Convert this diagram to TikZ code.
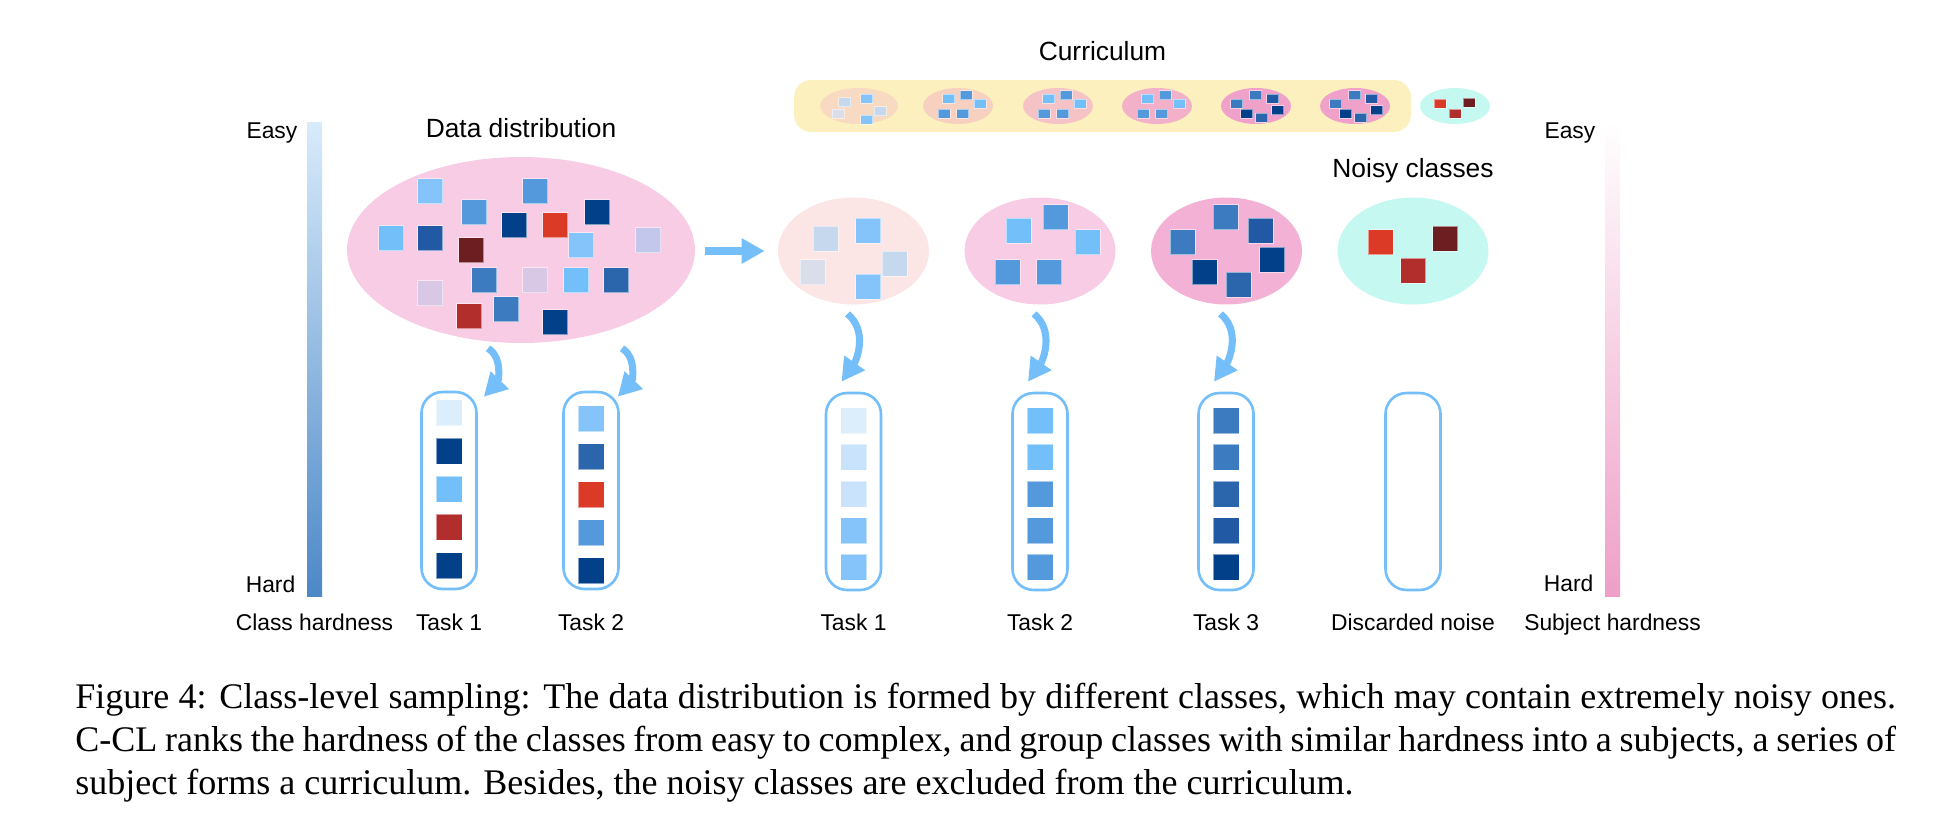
\documentclass[tikz,border=0pt]{standalone}
\usepackage{fontspec}
\setmainfont{Liberation Sans}
\newfontfamily\capfont{Liberation Serif}
\usetikzlibrary{arrows.meta,calc,positioning,shapes.geometric}

\definecolor{skyA}{HTML}{74BEF9}
\definecolor{sqVlight}{HTML}{DCEEFC}
\definecolor{sqPale}{HTML}{C8E3FB}
\definecolor{sqGray}{HTML}{C5D8EE}
\definecolor{sqGrayL}{HTML}{DADDEA}
\definecolor{sqLav}{HTML}{D8C8E6}
\definecolor{sqLavB}{HTML}{C4C7EC}
\definecolor{sqLblue}{HTML}{85C4FA}
\definecolor{sqSky}{HTML}{73BFFA}
\definecolor{sqMed}{HTML}{5599DD}
\definecolor{sqMid}{HTML}{3C7BC0}
\definecolor{sqBlue}{HTML}{2B65AB}
\definecolor{sqDblue}{HTML}{2259A5}
\definecolor{sqNavy}{HTML}{03408A}
\definecolor{sqRed}{HTML}{DB3A26}
\definecolor{sqDred}{HTML}{B22E2C}
\definecolor{sqMaroon}{HTML}{6D1E20}
\definecolor{blobData}{HTML}{F7CCE4}
\definecolor{blobEasy}{HTML}{FBE5E5}
\definecolor{blobPeach}{HTML}{F8DAC2}
\definecolor{blobHard}{HTML}{F3B2D5}
\definecolor{blobNoise}{HTML}{C5F8F0}
\definecolor{currBar}{HTML}{FDF0BF}
\definecolor{barTopL}{HTML}{D8EBFB}
\definecolor{barBotL}{HTML}{4C88C7}
\definecolor{barBotR}{HTML}{EE9FC7}

\tikzset{
blob/.style={
  ellipse,
  inner sep=0pt,
  draw=none,
  }
}
\tikzset{
sq/.style={
  rectangle,
  inner sep=0pt,
  minimum size=0.5cm,
  draw=white, draw opacity=0.5, line width=0.3pt,
  }
}
\tikzset{
tinysq/.style={
  rectangle,
  inner sep=0pt,
  minimum width=0.24cm, minimum height=0.18cm,
  draw=white, draw opacity=0.5, line width=0.2pt,
  }
}
\tikzset{
taskbox/.style={
  rectangle,
  draw=skyA,
  line width=1.5pt,
  rounded corners=0.42cm,
  minimum width=1.1cm, minimum height=3.94cm,
  inner sep=0pt,
  }
}
\tikzset{
flowarrow/.style={
  draw=skyA,
  line width=4pt,
  -{Triangle[width=0.48cm,length=0.46cm]}
  }
}
\tikzset{
title/.style={font=\fontsize{15}{18}\selectfont, inner sep=0pt, text depth=0pt},
lbl/.style={font=\fontsize{13}{16}\selectfont, inner sep=0pt},
capline/.style={font=\capfont\fontsize{20.5}{24}\selectfont, inner sep=0pt},
hbar/.style={rectangle, inner sep=0pt, minimum width=0.3cm, minimum height=9.5cm, draw=none},
}

\begin{document}
\begin{tikzpicture}[x=0.02cm, y=-0.02cm]
    \useasboundingbox (0,0) rectangle (1960,832);

    % hardness bars
    \node[hbar, top color=barTopL, bottom color=barBotL] (lbar) at (314.5,359.5) {};
    \node[hbar, top color=white, bottom color=barBotR] (rbar) at (1612.5,359) {};
    \node[lbl, anchor=base east] (leasy) at ($(lbar.north west)+(-9,17)$) {Easy};
    \node[lbl, anchor=base east] (lhard) at ($(lbar.south west)+(-11,-5)$) {Hard};
    \node[lbl, anchor=base east] (reasy) at ($(rbar.north west)+(-9,17)$) {Easy};
    \node[lbl, anchor=base east] (rhard) at ($(rbar.south west)+(-11,-5)$) {Hard};

    % data distribution
    \node[blob, fill=blobData, minimum width=6.96cm, minimum height=3.72cm] (data) at (521,250) {};
    \node[title, above=0.38cm of data] (datalbl) {Data distribution};
    \foreach \x/\y/\c [count=\i] in {430/191/sqLblue, 535/191/sqMed, 474/212/sqMed, 514/225/sqNavy,
        555/225/sqRed, 597/212/sqNavy, 391/238/sqSky, 430/238/sqDblue, 471/250/sqMaroon,
        581/245/sqLblue, 648/240/sqLavB, 484/280/sqMid, 535/280/sqLav, 576/280/sqSky,
        616/280/sqBlue, 430/293/sqLav, 469/316/sqDred, 506/309/sqMid, 555/322/sqNavy}
      \node[sq, fill=\c] (ds\i) at (\x,\y) {};

    % subjects
    \node[blob, fill=blobEasy, minimum width=3.02cm, minimum height=2.14cm] (sub1) at (853.5,251) {};
    \node[blob, fill=blobData, minimum width=3.02cm, minimum height=2.14cm] (sub2) at (1040,251) {};
    \node[blob, fill=blobHard, minimum width=3.02cm, minimum height=2.14cm] (sub3) at (1226.5,251) {};
    \node[blob, fill=blobNoise, minimum width=3.02cm, minimum height=2.14cm] (noise) at (1413,251) {};
    \node[title, above=0.38cm of noise] (noiselbl) {Noisy classes};
    \foreach \x/\y/\c [count=\i] in {825.5/238.5/sqGray, 868/230.5/sqLblue, 812.5/272/sqGrayL,
        894.5/263.5/sqGray, 868/286.5/sqLblue}
      \node[sq, fill=\c] (s1q\i) at (\x,\y) {};
    \foreach \x/\y/\c [count=\i] in {1018.5/230.5/sqSky, 1055.5/217/sqMed, 1087.5/242/sqSky,
        1007.5/272/sqMed, 1049/272/sqMed}
      \node[sq, fill=\c] (s2q\i) at (\x,\y) {};
    \foreach \x/\y/\c [count=\i] in {1182.5/242/sqMid, 1225.5/217/sqMid, 1260.5/230.5/sqDblue,
        1272/259.5/sqNavy, 1204.5/272/sqNavy, 1238.5/284.5/sqBlue}
      \node[sq, fill=\c] (s3q\i) at (\x,\y) {};
    \foreach \x/\y/\c [count=\i] in {1380.5/242/sqRed, 1445/238.5/sqMaroon, 1413/270.5/sqDred}
      \node[sq, fill=\c] (nq\i) at (\x,\y) {};

    % curriculum part
    \node[rectangle, fill=currBar, rounded corners=0.34cm, minimum width=12.34cm, minimum height=1.04cm] (curr) at (1102.5,106) {};
    \node[title, above=0.38cm of curr] (currlbl) {Curriculum};
    \node[blob, fill=blobPeach, minimum width=1.56cm, minimum height=0.72cm] (c1) at (859,106) {};
    \foreach \x/\c [count=\i from 2] in {958/F7D0C0, 1058/F5C3C5, 1157/F2B1C8, 1256/EFA1C9, 1355/EFA1C9} {
      \definecolor{cc}{HTML}{\c}
      \node[blob, fill=cc, minimum width=1.4cm, minimum height=0.72cm] (c\i) at (\x,106) {};
    }
    \node[blob, fill=blobNoise, minimum width=1.4cm, minimum height=0.72cm] (cn) at (1455,106) {};
    \foreach \dx/\dy/\c [count=\i] in {-14.5/-4/sqGray, 7.5/-7.5/sqLblue, -21/7.5/sqGrayL, 21/5/sqGray, 7.5/13.5/sqLblue}
      \node[tinysq, fill=\c] (c1q\i) at ($(c1)+(\dx,\dy)$) {};
    \foreach \e in {c2,c3,c4} {
      \foreach \dx/\dy/\c [count=\i] in {-9.5/-7.5/sqSky, 8/-11/sqMed, 22/-2.5/sqSky, -14/7.5/sqMed, 4.5/7.5/sqMed}
        \node[tinysq, fill=\c] (\e q\i) at ($(\e)+(\dx,\dy)$) {};
    }
    \foreach \e in {c5,c6} {
      \foreach \dx/\dy/\c [count=\i] in {-0.5/-11/sqMid, -19.5/-2.5/sqMid, 16.5/-7.5/sqDblue, -9.5/7.5/sqNavy, 21.5/4/sqNavy, 5.5/11.5/sqBlue}
        \node[tinysq, fill=\c] (\e q\i) at ($(\e)+(\dx,\dy)$) {};
    }
    \foreach \dx/\dy/\c [count=\i] in {-15/-2.5/sqRed, 14/-3.5/sqMaroon, 0/7.5/sqDred}
      \node[tinysq, fill=\c] (cnq\i) at ($(cn)+(\dx,\dy)$) {};

    % tasks
    \node[taskbox] (t1) at (449,490.5) {};
    \node[taskbox] (t2) at (591,490.5) {};
    \node[taskbox] (r1) at (853.5,491.5) {};
    \node[taskbox] (r2) at (1040,491.5) {};
    \node[taskbox] (r3) at (1226,491.5) {};
    \node[taskbox] (rn) at (1413,491.5) {};
    \foreach \c [count=\i from 0] in {sqVlight,sqNavy,sqSky,sqDred,sqNavy}
      \node[sq, minimum size=0.52cm, fill=\c] (t1q\i) at ($(t1.north)+(0,{22+38.25*\i})$) {};
    \foreach \c [count=\i from 0] in {sqLblue,sqBlue,sqRed,sqMed,sqNavy}
      \node[sq, minimum size=0.52cm, fill=\c] (t2q\i) at ($(t2.north)+(0,{28+38*\i})$) {};
    \foreach \c [count=\i from 0] in {sqVlight,sqPale,sqPale,sqLblue,sqLblue}
      \node[sq, minimum size=0.52cm, fill=\c] (r1q\i) at ($(r1.north)+(0,{29+36.6*\i})$) {};
    \foreach \c [count=\i from 0] in {sqSky,sqSky,sqMed,sqMed,sqMed}
      \node[sq, minimum size=0.52cm, fill=\c] (r2q\i) at ($(r2.north)+(0,{29+36.6*\i})$) {};
    \foreach \c [count=\i from 0] in {sqMid,sqMid,sqBlue,sqDblue,sqNavy}
      \node[sq, minimum size=0.52cm, fill=\c] (r3q\i) at ($(r3.north)+(0,{29+36.6*\i})$) {};

    % labels
    \coordinate (lblline) at (0,630);
    \node[lbl, anchor=base] (lclass) at (lbar |- lblline) {Class hardness};
    \node[lbl, anchor=base] (lt1) at (t1 |- lblline) {Task 1};
    \node[lbl, anchor=base] (lt2) at (t2 |- lblline) {Task 2};
    \node[lbl, anchor=base] (lr1) at (r1 |- lblline) {Task 1};
    \node[lbl, anchor=base] (lr2) at (r2 |- lblline) {Task 2};
    \node[lbl, anchor=base] (lr3) at (r3 |- lblline) {Task 3};
    \node[lbl, anchor=base] (lrn) at (rn |- lblline) {Discarded noise};
    \node[lbl, anchor=base] (lsubj) at (rbar |- lblline) {Subject hardness};

    % arrows
    \draw[flowarrow] ($(data.east)+(10,1)$) -- ($(sub1.west)+(-13,0)$);
    \draw[flowarrow] ($(data.south)+(-33,5)$) to[out=-32,in=46] ($(t1.north east)+(6,6)$);
    \draw[flowarrow] ($(data.south)+(101,5)$) to[out=-32,in=46] ($(t2.north east)+(-2,6)$);
    \foreach \s/\t in {sub1/r1,sub2/r2,sub3/r3}
      \draw[flowarrow] ($(\s.south)+(-6,9)$) to[out=-40,in=55] ($(\t.north)+(-12,-10)$);

    % caption
    \node[capline, anchor=base west] (cap1) at (75,708) {\makebox[36.42cm][s]{Figure 4: Class-level sampling: The data distribution is formed by different classes, which may contain extremely noisy ones.}};
    \node[capline, anchor=base west] (cap2) at (75,751) {\makebox[36.42cm][s]{C-CL ranks the hardness of the classes from easy to complex, and group classes with similar hardness into a subjects, a series of}};
    \node[capline, anchor=base west] (cap3) at (75,794) {subject forms a curriculum. Besides, the noisy classes are excluded from the curriculum.};
\end{tikzpicture}
\end{document}
